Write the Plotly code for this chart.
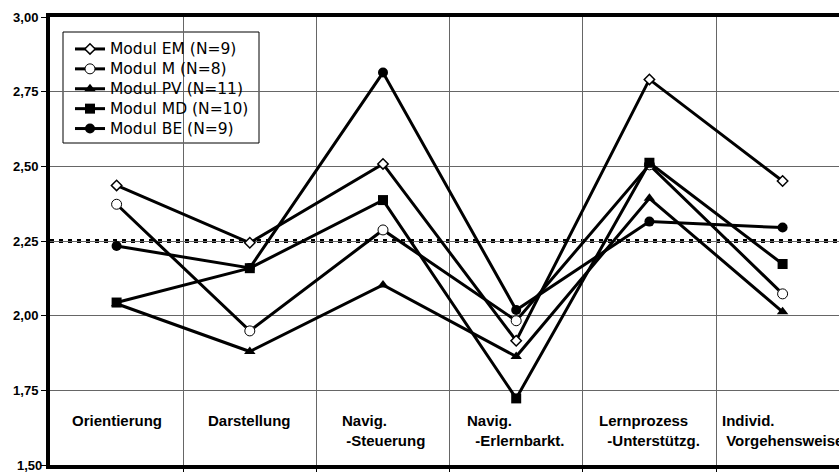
import plotly.graph_objects as go

CATEGORIES = ["Orientierung", "Darstellung", "Navig.<br>\u00a0-Steuerung",
              "Navig.<br>\u00a0\u00a0-Erlernbarkt.", "Lernprozess<br>\u00a0\u00a0-Unterstützg.",
              "Individ.<br>\u00a0Vorgehensweise"]
SERIES_NAMES = ["Modul EM (N=9)", "Modul M (N=8)", "Modul PV (N=11)", "Modul MD (N=10)", "Modul BE (N=9)"]
EM = [2.436, 2.244, 2.508, 1.916, 2.791, 2.451]
M = [2.373, 1.949, 2.287, 1.983, 2.505, 2.073]
PV = [2.040, 1.880, 2.103, 1.863, 2.393, 2.013]
MD = [2.044, 2.159, 2.387, 1.723, 2.512, 2.173]
BE = [2.233, 2.160, 2.814, 2.019, 2.315, 2.295]
REFERENCE = 2.25
Y_TICKS = [1.50, 1.75, 2.00, 2.25, 2.50, 2.75, 3.00]

series = [EM, M, PV, MD, BE]
markers = [
    dict(symbol="diamond", size=8, color="white", line=dict(color="black", width=1.5)),
    dict(symbol="circle", size=10, color="white", line=dict(color="black", width=1)),
    dict(symbol="triangle-up", size=10, color="black", line=dict(color="black", width=0)),
    dict(symbol="square", size=10, color="black", line=dict(color="black", width=0)),
    dict(symbol="circle", size=10, color="black", line=dict(color="black", width=0)),
]

xs = list(range(len(CATEGORIES)))
fig = go.Figure()
for name, vals, mk in zip(SERIES_NAMES, series, markers):
    fig.add_trace(go.Scatter(x=xs, y=vals, name='<span style="font-size:15.5px">' + name + '</span>',
                             mode="lines+markers",
                             line=dict(color="black", width=3), marker=mk, cliponaxis=False))

# hide the gridline under the reference line, then draw the dotted reference line
fig.add_shape(type="line", xref="paper", x0=0, x1=1, yref="y", y0=REFERENCE, y1=REFERENCE,
              line=dict(color="white", width=2), layer="between")
fig.add_shape(type="line", xref="paper", x0=0, x1=1, yref="y", y0=REFERENCE, y1=REFERENCE,
              line=dict(color="black", width=4, dash="4px,5px"), layer="between")

# legend box
fig.add_shape(type="rect", xref="paper", yref="paper",
              x0=(63 - 50) / 789, x1=(259 - 50) / 789,
              y0=1 - (143 - 17) / 448, y1=1 - (32 - 17) / 448,
              fillcolor="white", line=dict(color="black", width=1), layer="between")

for i, lab in enumerate(CATEGORIES):
    fig.add_annotation(x=i, y=1.683, xref="x", yref="y", text=lab, showarrow=False,
                       xanchor="center", yanchor="top", align="left",
                       font=dict(family="Liberation Sans, Arial, sans-serif", size=15, color="black",
                                 weight="bold"))

# bottom tick label, which sits half outside the page
fig.add_annotation(x=0, xref="paper", xanchor="right", xshift=-6, y=Y_TICKS[0], yref="y",
                   yanchor="middle", showarrow=False,
                   text=f"{Y_TICKS[0]:.2f}".replace(".", ","),
                   font=dict(family="Liberation Sans, Arial, sans-serif", size=13, color="black",
                             weight="bold"))

grid_color = "#666666"
fig.update_layout(
    width=839, height=472,
    margin=dict(l=50, r=0, t=17, b=7),
    paper_bgcolor="white", plot_bgcolor="white",
    separators=",.",
    showlegend=True,
    legend=dict(x=(70 - 50) / 789, y=1 - (34 - 17) / 448, xanchor="left", yanchor="top",
                bgcolor="rgba(0,0,0,0)", borderwidth=0, tracegroupgap=0,
                font=dict(family="DejaVu Sans, sans-serif", size=13, color="black")),
    xaxis=dict(range=[-0.5, -0.5 + 789 / 133.2], tickvals=[0.5, 1.5, 2.5, 3.5, 4.5],
               showticklabels=False, ticks="outside", ticklen=4, tickcolor="black",
               showgrid=True, gridcolor=grid_color, gridwidth=1, zeroline=False,
               showline=True, linecolor="black", linewidth=4, mirror=True),
    yaxis=dict(range=[1.5, 3.0], tickvals=Y_TICKS, tickformat=".2f",
               ticks="outside", ticklen=5, tickcolor="black",
               tickfont=dict(family="Liberation Sans, Arial, sans-serif", size=13, color="black",
                             weight="bold"),
               showgrid=True, gridcolor=grid_color, gridwidth=1, zeroline=False,
               showline=True, linecolor="black", linewidth=4, mirror=False),
)

fig.write_html("out.html", config={"displayModeBar": False},
               post_script="document.body.style.margin='0';document.body.style.overflow='hidden';")
